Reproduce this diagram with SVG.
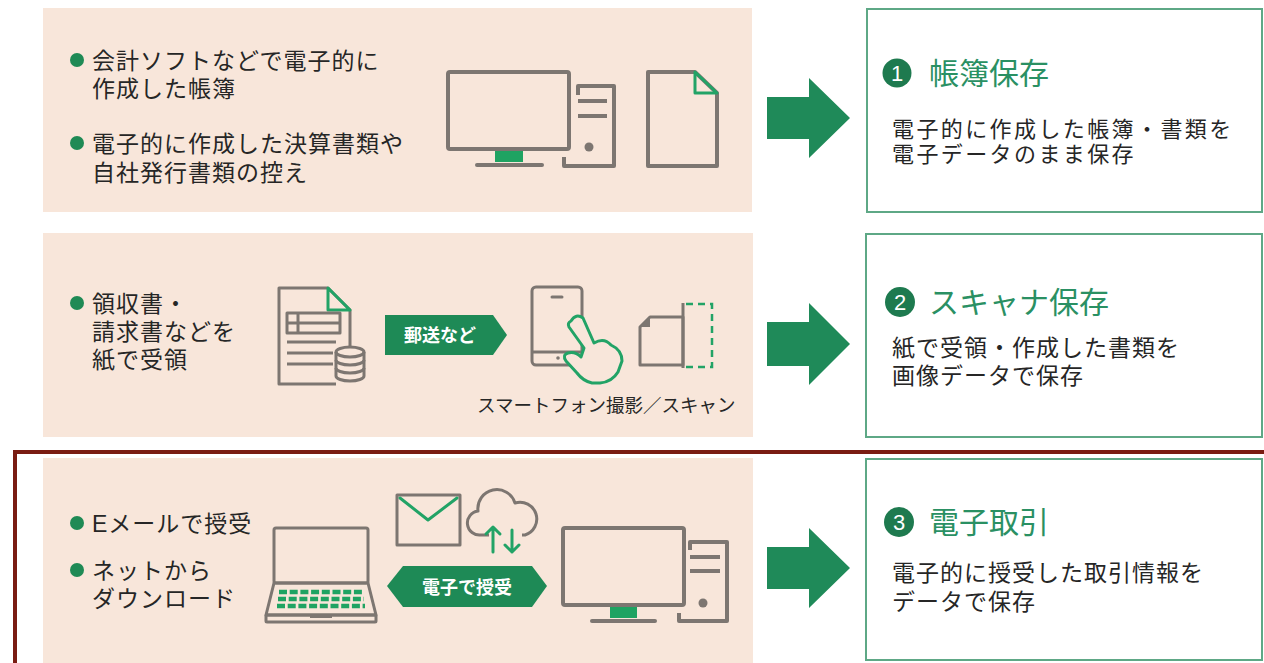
<svg xmlns="http://www.w3.org/2000/svg" width="1264" height="663" viewBox="0 0 1264 663">
<style>
.panel{fill:#f8e6da}
.box{fill:#ffffff;stroke:#5ea886;stroke-width:2}
.arrow{fill:#1f8a59}
.txt{font-family:"Liberation Sans","Noto Sans CJK JP",sans-serif;font-size:23px;letter-spacing:1px;fill:#262626}
.txt2{font-family:"Liberation Sans","Noto Sans CJK JP",sans-serif;font-size:22px;letter-spacing:2.4px;fill:#262626}
.ttl{font-family:"Liberation Sans","Noto Sans CJK JP",sans-serif;font-size:30px;fill:#2a9063}
.num{font-family:"Liberation Sans","Noto Sans",sans-serif;font-size:22px;fill:#ffffff;text-anchor:middle}
.ban{font-family:"Liberation Sans","Noto Sans CJK JP",sans-serif;font-size:18px;font-weight:bold;fill:#ffffff;text-anchor:middle}
.cap{font-family:"Liberation Sans","Noto Sans CJK JP",sans-serif;font-size:18.5px;fill:#262626}
.g{fill:none;stroke:#7d7671;stroke-width:4;stroke-linejoin:round}
.gt{fill:none;stroke:#7d7671;stroke-width:3;stroke-linejoin:round}
.gr{fill:none;stroke:#22a366;stroke-width:3;stroke-linejoin:round;stroke-linecap:round}
.bul{fill:#1f8a55}
</style>
<rect width="1264" height="663" fill="#ffffff"/>

<g id="panel1">
<rect class="panel" x="43" y="8" width="709" height="204"/>
<circle class="bul" cx="77" cy="60" r="7"/>
<text class="txt" x="92" y="69">会計ソフトなどで電子的に</text>
<text class="txt" x="92" y="97">作成した帳簿</text>
<circle class="bul" cx="77" cy="143" r="7"/>
<text class="txt" x="92" y="152">電子的に作成した決算書類や</text>
<text class="txt" x="92" y="181">自社発行書類の控え</text>
<rect class="g" x="448" y="72" width="121" height="77" rx="2"/>
<rect x="495" y="151" width="28" height="11" fill="#1fa362"/>
<line class="g" x1="477" y1="165" x2="542" y2="165" stroke-linecap="round"/>
<path class="g" d="M578 95 V86 H614 V166 H564 V157"/>
<line class="g" x1="578" y1="101" x2="607" y2="101"/>
<line class="g" x1="578" y1="116" x2="607" y2="116"/>
<circle cx="589" cy="147" r="4.5" fill="#7d7671"/>
<path class="g" d="M648 72 H695 L717 93 V166 H648 Z"/>
<path class="gr" d="M695 72 V93 H717 Z"/>
</g>

<g id="panel2">
<rect class="panel" x="43" y="233" width="710" height="204"/>
<circle class="bul" cx="77" cy="303" r="7"/>
<text class="txt" x="92" y="312">領収書・</text>
<text class="txt" x="92" y="340">請求書などを</text>
<text class="txt" x="92" y="368">紙で受領</text>
<path class="gt" d="M336 384 H279 V288 H328 L350 310 V347"/>
<path class="gr" d="M328 288 V310 H350 Z"/>
<rect class="gt" x="287" y="313" width="53" height="20"/>
<line class="gt" x1="287" y1="323" x2="340" y2="323"/>
<line class="gt" x1="298" y1="313" x2="298" y2="333"/>
<line class="gt" x1="287" y1="342" x2="336" y2="342"/>
<line class="gt" x1="287" y1="353" x2="333" y2="353"/>
<line class="gt" x1="287" y1="364" x2="333" y2="364"/>
<ellipse cx="350" cy="352" rx="14" ry="5" fill="#f8e6da" stroke="#7d7671" stroke-width="3"/>
<path class="gt" d="M336 352 V376 A14 5 0 0 0 364 376 V352"/>
<path class="gt" d="M336 360 A14 5 0 0 0 364 360 M336 368 A14 5 0 0 0 364 368"/>
<path d="M385 315 H493 L507 335 L493 355 H385 Z" fill="#1e8a56"/>
<text class="ban" x="440" y="342">郵送など</text>
<rect class="gt" x="532" y="287" width="50" height="78" rx="4"/>
<line class="gt" x1="532" y1="352" x2="582" y2="352"/>
<line class="gt" x1="552" y1="297" x2="562" y2="297" stroke-linecap="round"/>
<circle cx="558" cy="358" r="1.8" fill="#7d7671"/>
<path d="M571 321 Q576 313 583 318 L594 343 Q604 337 611 345 Q622 350 622 361 L618 372 Q612 382 600 383 L592 383 Q583 381 577 373 L566 361 Q562 355 568 353 Q575 351 581 357 L584 348 L569 327 Q567 323 571 321 Z" fill="#f8e6da" stroke="#22a366" stroke-width="3" stroke-linejoin="round"/>
<path d="M640 327 L650 317 H683 V365 H640 Z" fill="none" stroke="#7d7671" stroke-width="3" stroke-linejoin="round"/>
<path d="M640 327 L650 317 V327 Z" fill="#7d7671"/>
<line class="gt" x1="683" y1="303" x2="683" y2="368"/>
<path d="M686 304 H712 V367 H686" fill="none" stroke="#22a366" stroke-width="2.5" stroke-dasharray="7 5"/>
<text class="cap" x="477" y="412">スマートフォン撮影／スキャン</text>
</g>

<g id="panel3">
<rect class="panel" x="43" y="458" width="710" height="205"/>
<circle class="bul" cx="77" cy="523" r="7"/>
<text class="txt" x="92" y="532">Eメールで授受</text>
<circle class="bul" cx="77" cy="570" r="7"/>
<text class="txt" x="92" y="579">ネットから</text>
<text class="txt" x="92" y="607">ダウンロード</text>
<rect class="gt" x="274" y="528" width="94" height="55" rx="2"/>
<path class="gt" d="M274 583 L266 615 H376 L368 583 Z"/>
<rect class="gt" x="266" y="615" width="110" height="7" rx="1"/>
<line x1="310" y1="617" x2="332" y2="617" stroke="#7d7671" stroke-width="2"/>
<g stroke="#1fa362" stroke-width="4.5" stroke-dasharray="8 2.7">
<line x1="279" y1="592" x2="363" y2="592"/>
<line x1="278" y1="599" x2="364" y2="599"/>
<line x1="277" y1="606" x2="365" y2="606"/>
</g>
<rect class="gt" x="397" y="495" width="63" height="50"/>
<path class="gr" d="M400 498 L428 520 L457 498"/>
<path class="gt" d="M489 535 H481 A12 12 0 0 1 478 511 A19 19 0 0 1 515 503 A16 16 0 0 1 525 535 H522"/>
<path class="gr" d="M493 552 V527 M486 534 L493 527 L500 534"/>
<path class="gr" d="M512 530 V552 M505 545 L512 552 L519 545"/>
<path d="M387 586 L403 566 H532 L547 586 L532 607 H403 Z" fill="#1e8a56"/>
<text class="ban" x="467" y="594">電子で授受</text>
<rect class="g" x="563" y="528" width="121" height="77" rx="2"/>
<rect x="610" y="607" width="27" height="11" fill="#1fa362"/>
<line class="g" x1="592" y1="621" x2="655" y2="621" stroke-linecap="round"/>
<path class="g" d="M690 550 V542 H727 V621 H679 V613"/>
<line class="g" x1="690" y1="557" x2="720" y2="557"/>
<line class="g" x1="690" y1="571" x2="720" y2="571"/>
<circle cx="703" cy="603" r="4.5" fill="#7d7671"/>
</g>

<g id="result1">
<rect class="box" x="867" y="9" width="395" height="203"/>
<circle cx="897" cy="73" r="14.5" fill="#1e7a4f"/>
<text class="num" x="897" y="81">1</text>
<text class="ttl" x="929" y="84">帳簿保存</text>
<text class="txt2" x="892" y="137">電子的に作成した帳簿・書類を</text>
<text class="txt2" x="892" y="162">電子データのまま保存</text>
</g>

<g id="result2">
<rect class="box" x="866" y="234" width="396" height="203"/>
<circle cx="900" cy="302" r="15" fill="#1e7a4f"/>
<text class="num" x="900" y="310">2</text>
<text class="ttl" x="929" y="313">スキャナ保存</text>
<text class="txt" x="892" y="356" letter-spacing="1.4">紙で受領・作成した書類を</text>
<text class="txt" x="892" y="384" letter-spacing="1.4">画像データで保存</text>
</g>

<g id="result3">
<rect class="box" x="866" y="459" width="396" height="201"/>
<circle cx="899" cy="522" r="15" fill="#1e7a4f"/>
<text class="num" x="899" y="530">3</text>
<text class="ttl" x="929" y="533">電子取引</text>
<text class="txt" x="892" y="581" letter-spacing="1.4">電子的に授受した取引情報を</text>
<text class="txt" x="892" y="610" letter-spacing="1.4">データで保存</text>
</g>

<g id="connectors">
<path class="arrow" d="M767 97 H809 V78 L850 118 L809 158 V139 H767 Z"/>
<path class="arrow" d="M767 322 H809 V303 L850 344 L809 385 V366 H767 Z"/>
<path class="arrow" d="M767 547 H809 V528 L850 568 L809 608 V589 H767 Z"/>
</g>

<rect id="highlight" x="15" y="452" width="1262" height="240" fill="none" stroke="#7a1c12" stroke-width="4"/>
</svg>
